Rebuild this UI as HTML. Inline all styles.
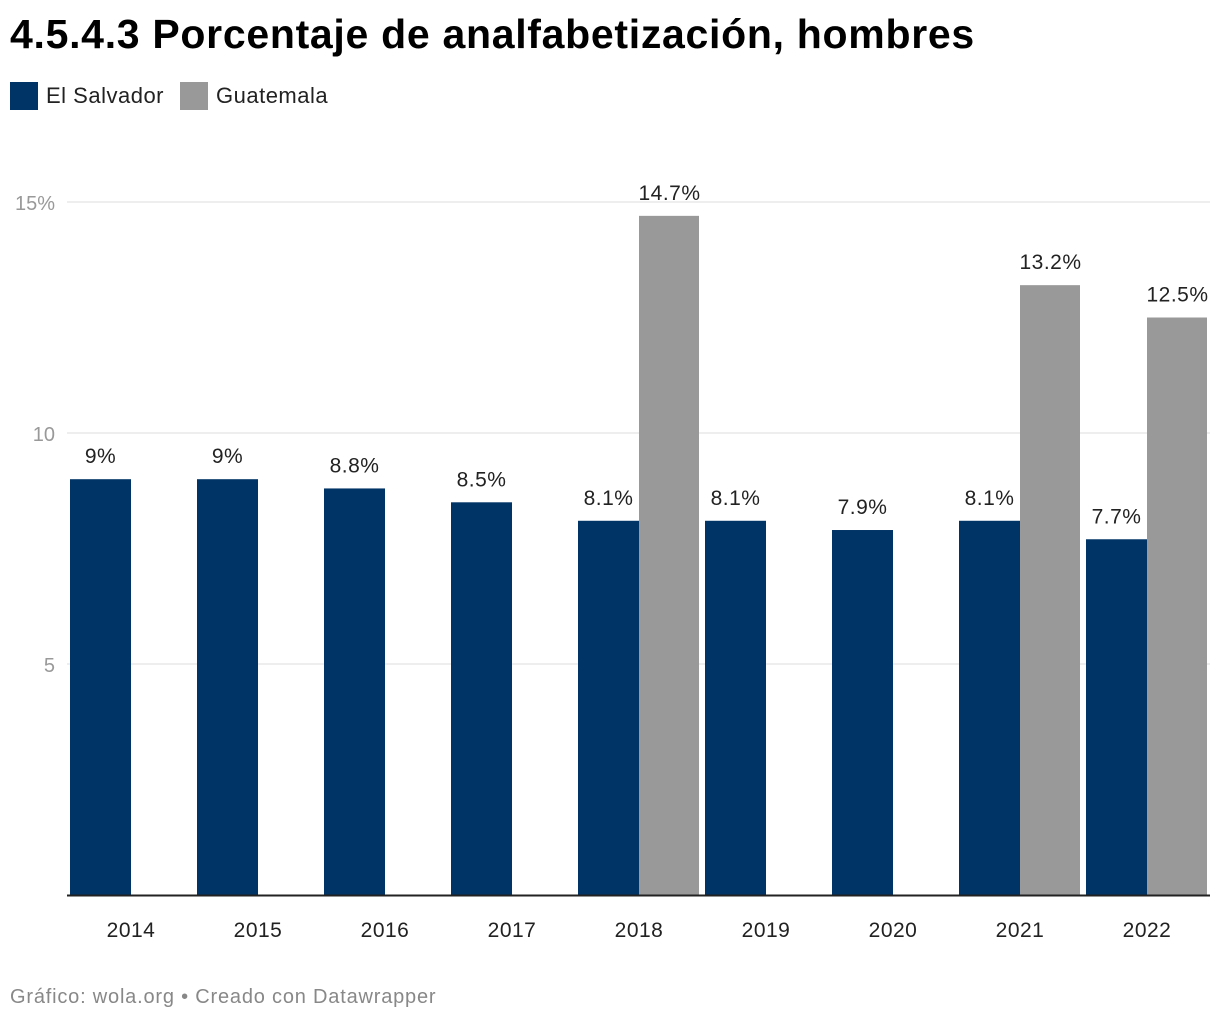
<!DOCTYPE html>
<html><head><meta charset="utf-8"><style>
body{margin:0;background:#fff;font-family:"Liberation Sans",sans-serif;width:1220px;height:1020px;overflow:hidden;position:relative}
#title{position:absolute;left:10px;top:11px;font-size:41px;font-weight:bold;color:#000;letter-spacing:0.7px}
.leg{position:absolute;top:82px;font-size:22px;color:#222;display:flex;align-items:center;letter-spacing:0.5px}
.sw{width:28px;height:28px;margin-right:8px;display:inline-block}
#foot{position:absolute;left:10px;top:986px;font-size:20px;color:#888;letter-spacing:0.8px}
</style></head><body>
<div id="title">4.5.4.3 Porcentaje de analfabetización, hombres</div>
<div class="leg" style="left:10px"><span class="sw" style="background:#003366"></span>El Salvador</div>
<div class="leg" style="left:180px"><span class="sw" style="background:#999"></span>Guatemala</div>
<svg id="chart" width="1220" height="1020" style="position:absolute;left:0;top:0"></svg>
<div id="foot">Gráfico: wola.org • Creado con Datawrapper</div>
<script>
const years=["2014","2015","2016","2017","2018","2019","2020","2021","2022"];
const elSalvador=[9,9,8.8,8.5,8.1,8.1,7.9,8.1,7.7];
const guatemala=[null,null,null,null,14.7,null,null,13.2,12.5];
const esLabels=["9%","9%","8.8%","8.5%","8.1%","8.1%","7.9%","8.1%","7.7%"];
const gtLabels=[null,null,null,null,"14.7%",null,null,"13.2%","12.5%"];
const yTicks=[5,10,15];
const yTickLabels=["5","10","15%"];
const svg=document.getElementById('chart');const NS='http://www.w3.org/2000/svg';
const y=v=>895-v*46.2;
const xg=i=>70+i*127;
const bw=61;
function mk(t,a){const e=document.createElementNS(NS,t);for(const k in a)e.setAttribute(k,a[k]);svg.appendChild(e);return e;}
yTicks.forEach((t,i)=>{
 const g=mk('line',{x1:67,x2:1210,y1:y(t),y2:y(t),stroke:'#ddd','stroke-width':1});
 
 
 const l=mk('text',{x:55,y:y(t)+8,'text-anchor':'end','font-size':20,fill:'#999','font-family':'Liberation Sans'});
 l.textContent=yTickLabels[i];
 
 
});
years.forEach((yr,i)=>{
 const x=xg(i);
 const b=mk('rect',{x:x,y:y(elSalvador[i]),width:bw,height:895-y(elSalvador[i]),fill:'#003366'});
 
 
 const t=mk('text',{x:x+bw/2,y:y(elSalvador[i])-16,'text-anchor':'middle','font-size':21,fill:'#222','font-family':'Liberation Sans','letter-spacing':0.5});
 t.textContent=esLabels[i];
 
 
 if(guatemala[i]!=null){
  const g=mk('rect',{x:x+bw,y:y(guatemala[i]),width:bw-1,height:895-y(guatemala[i]),fill:'#999'});
  
  
  const tg=mk('text',{x:x+bw*1.5,y:y(guatemala[i])-16,'text-anchor':'middle','font-size':21,fill:'#222','font-family':'Liberation Sans','letter-spacing':0.5});
  tg.textContent=gtLabels[i];
  
  
 }
 const xl=mk('text',{x:x+bw,y:937,'text-anchor':'middle','font-size':21,fill:'#222','font-family':'Liberation Sans','letter-spacing':0.5});
 xl.textContent=yr;
 
 
});
const ax=mk('line',{x1:67,x2:1210,y1:895.5,y2:895.5,stroke:'#222','stroke-width':2});


</script>
</body></html>
